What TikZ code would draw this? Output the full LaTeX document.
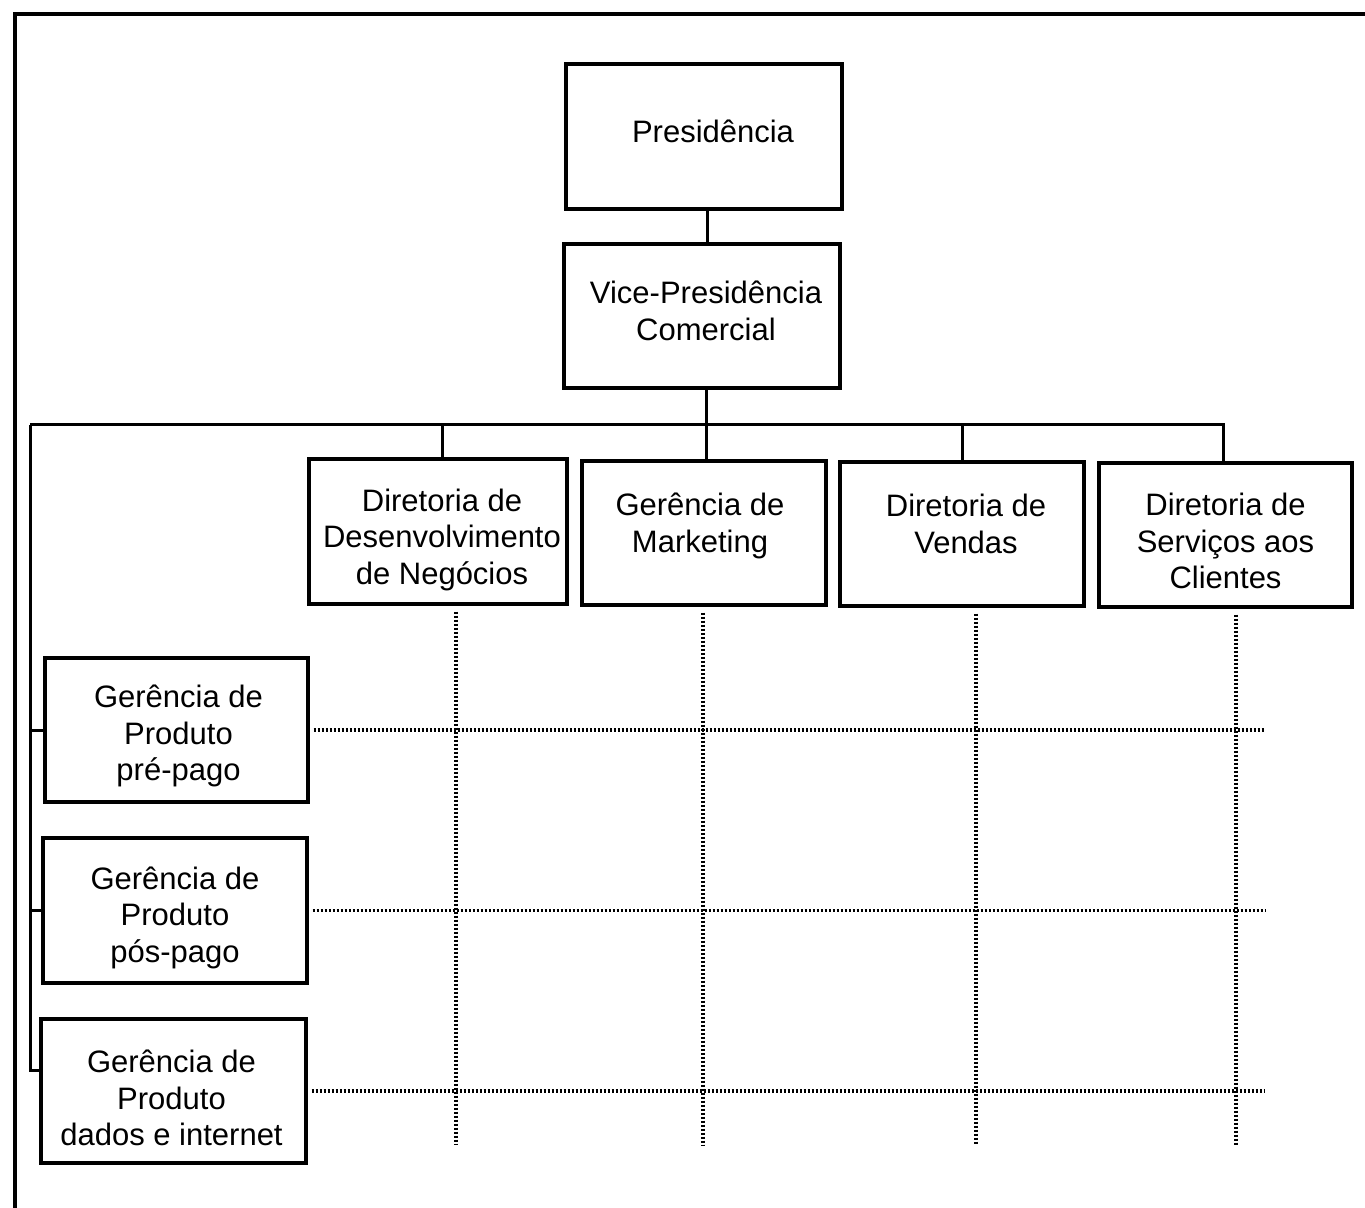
\documentclass[tikz,border=0pt]{standalone}
\usepackage{fontspec}
\setmainfont{Liberation Sans}
\begin{document}
\begin{tikzpicture}[x=0.5pt,y=-0.5pt,
  unit/.style={draw, line width=1.6pt, inner sep=0pt},
  caption/.style={align=center, inner sep=0pt,
                  font=\fontsize{15.5}{18.25}\selectfont},
  link/.style={line width=1.5pt},
  grid/.style={line width=1.6pt, dash pattern=on 1.1pt off 0.9pt},
  frame/.style={line width=2pt}]
\useasboundingbox (0,0) rectangle (1365,1208);

% page frame (left and top edges)
\draw[frame] (15,1208) -- (15,14) -- (1365,14);

% top of the hierarchy
\node[unit, minimum width=138pt, minimum height=72.5pt,
      label={[caption, xshift=4.5pt, yshift=2.5pt]center:Presidência}] (pres) at (704,136.5) {};
\node[unit, minimum width=138pt, minimum height=72pt,
      label={[caption, xshift=2pt, yshift=2.5pt]center:{Vice-Presidência\\Comercial}}] (vp) at (702,316) {};

% directorates
\node[unit, minimum width=129pt, minimum height=72.5pt,
      label={[caption, xshift=2pt, yshift=-4pt]center:{Diretoria de\\Desenvolvimento\\de Negócios}}] (ddn) at (438,531.5) {};
\node[unit, minimum width=122pt, minimum height=72pt,
      label={[caption, xshift=-2pt, yshift=-4pt]center:{Gerência de\\Marketing\\\mbox{}}}] (mkt) at (704,533) {};
\node[unit, minimum width=122pt, minimum height=72pt,
      label={[caption, xshift=2pt, yshift=-4pt]center:{Diretoria de\\Vendas\\\mbox{}}}] (vnd) at (962,534) {};
\node[unit, minimum width=126.5pt, minimum height=72pt,
      label={[caption, yshift=-3pt]center:{Diretoria de\\Serviços aos\\Clientes}}] (svc) at (1225.5,535) {};

% product managements
\node[unit, minimum width=131.5pt, minimum height=72pt,
      label={[caption, xshift=1pt, yshift=-3pt]center:{Gerência de\\Produto\\pré-pago}}] (g1) at (176.5,730) {};
\node[unit, minimum width=132pt, minimum height=72.5pt,
      label={[caption, yshift=-3.5pt]center:{Gerência de\\Produto\\pós-pago}}] (g2) at (175,910.5) {};
\node[unit, minimum width=132.5pt, minimum height=72pt,
      label={[caption, xshift=-1pt, yshift=-3.5pt]center:{Gerência de\\Produto\\dados e internet}}] (g3) at (173.5,1091) {};

% solid reporting lines
\coordinate (busL) at (30,425);
\coordinate (t3) at (30,1070);
\draw[link] ([xshift=1.5pt]pres.south) -- ([xshift=1.5pt]pres.south |- vp.north);
\draw[link] ([xshift=2pt]vp.south) -- ([xshift=2pt]vp.south |- busL);
\draw[link] (busL) -- ([xshift=-1pt]svc.north |- busL) -- ([xshift=-1pt]svc.north);
\draw[link] ([xshift=2pt]ddn.north |- busL) -- ([xshift=2pt]ddn.north);
\draw[link] ([xshift=1pt]mkt.north |- busL) -- ([xshift=1pt]mkt.north);
\draw[link] (vnd.north |- busL) -- (vnd.north);
\draw[link] (busL) -- (t3) -- (t3 -| g3.west);
\draw[link] (busL |- g1.west) -- (g1.west);
\draw[link] (busL |- g2.west) -- (g2.west);

% dotted matrix lines
\draw[grid] ([yshift=-3pt]ddn.south -| 456,0) -- (456,1145);
\draw[grid] ([yshift=-3pt]mkt.south -| 703,0) -- (703,1145);
\draw[grid] ([yshift=-3pt]vnd.south -| 976,0) -- (976,1145);
\draw[grid] ([yshift=-3pt]svc.south -| 1236,0) -- (1236,1145);
\draw[grid] ([xshift=2pt]g1.east) -- (1265,0 |- g1.east);
\draw[grid] ([xshift=2pt]g2.east) -- (1265,0 |- g2.east);
\draw[grid] ([xshift=2pt]g3.east) -- (1265,0 |- g3.east);
\end{tikzpicture}
\end{document}
